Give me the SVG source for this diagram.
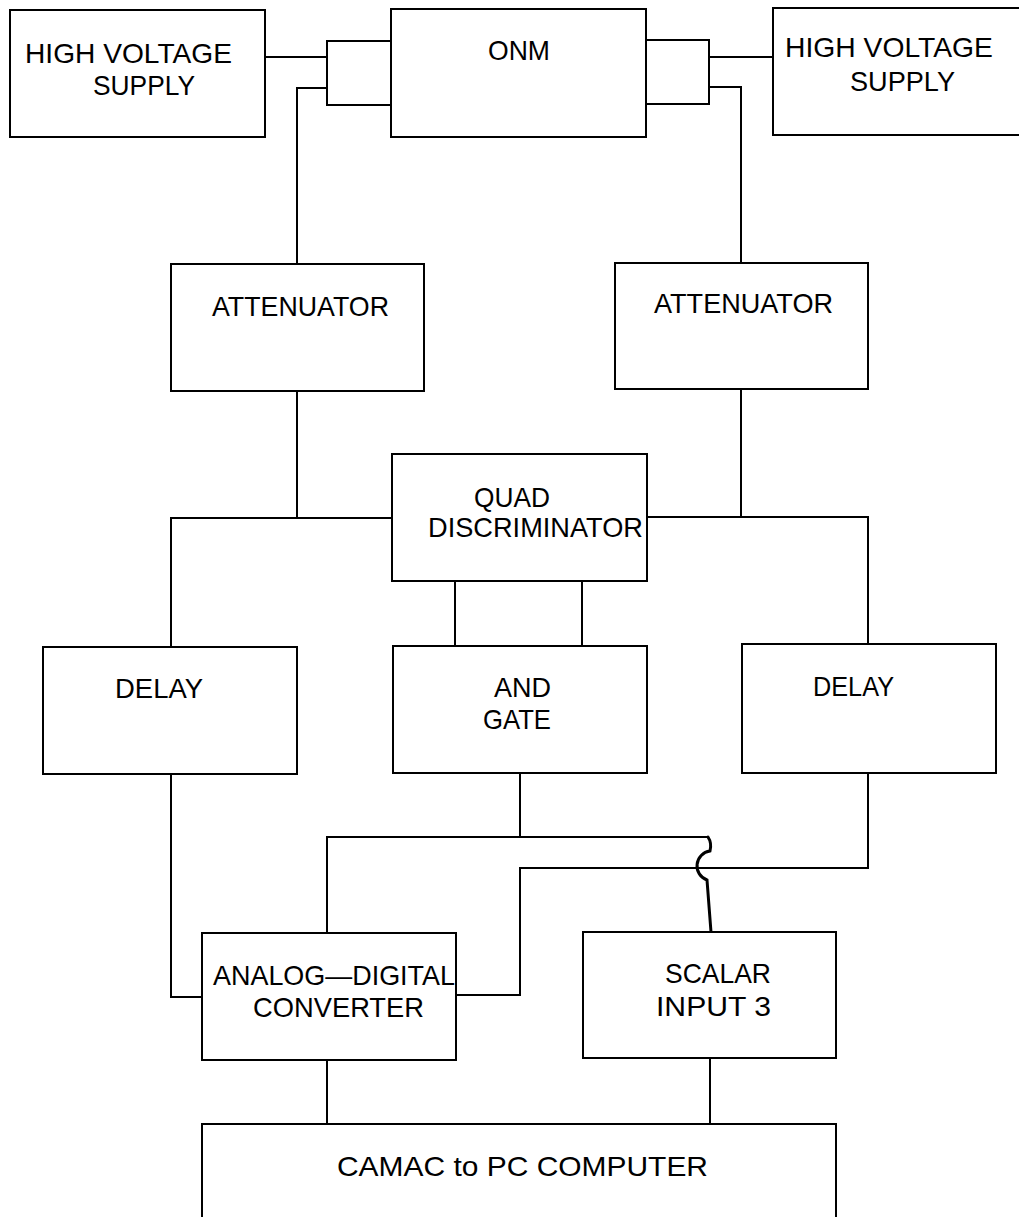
<svg xmlns="http://www.w3.org/2000/svg" width="1019" height="1217" viewBox="0 0 1019 1217">
<style>
.box{fill:#fff;stroke:#000;stroke-width:2}
.ln{fill:none;stroke:#000;stroke-width:2}
.hop{fill:none;stroke:#000;stroke-width:3;stroke-linecap:round}
text{font-family:"Liberation Sans",Arial,sans-serif;font-size:27.5px;fill:#000}
</style>
<rect width="1019" height="1217" fill="#fff"/>
<g id="connectors">
<path class="ln" d="M265,57 H327"/>
<path class="ln" d="M391,41 H327 V105 H391"/>
<path class="ln" d="M327,88 H297 V264"/>
<path class="ln" d="M646,40 H709 V104 H646"/>
<path class="ln" d="M709,57 H773"/>
<path class="ln" d="M709,87 H741 V263"/>
<path class="ln" d="M297,391 V518"/>
<path class="ln" d="M392,518 H171 V647"/>
<path class="ln" d="M741,389 V517"/>
<path class="ln" d="M647,517 H868 V644"/>
<path class="ln" d="M455,581 V646"/>
<path class="ln" d="M582,581 V646"/>
<path class="ln" d="M171,774 V997 H202"/>
<path class="ln" d="M520,773 V837"/>
<path class="ln" d="M708,837 H327 V933"/>
<path class="ln" d="M868,773 V868 H520 V995 H456"/>
<path class="hop" d="M708,837 Q712,843 710,851 A15,15 0 0 0 707,880 L711,932"/>
<path class="ln" d="M327,1060 V1124"/>
<path class="ln" d="M710,1058 V1124"/>
</g>
<g id="hv-left">
<rect class="box" x="10" y="10" width="255" height="127"/>
<text x="25" y="63" textLength="207" lengthAdjust="spacingAndGlyphs">HIGH VOLTAGE</text>
<text x="93" y="95" textLength="102" lengthAdjust="spacingAndGlyphs">SUPPLY</text>
</g>
<g id="onm">
<rect class="box" x="391" y="9" width="255" height="128"/>
<text x="488" y="60" textLength="62" lengthAdjust="spacingAndGlyphs">ONM</text>
</g>
<g id="hv-right">
<rect class="box" x="773" y="8" width="260" height="127"/>
<text x="785" y="57" textLength="208" lengthAdjust="spacingAndGlyphs">HIGH VOLTAGE</text>
<text x="850" y="91" textLength="105" lengthAdjust="spacingAndGlyphs">SUPPLY</text>
</g>
<g id="attenuator-left">
<rect class="box" x="171" y="264" width="253" height="127"/>
<text x="212" y="316" textLength="177" lengthAdjust="spacingAndGlyphs">ATTENUATOR</text>
</g>
<g id="attenuator-right">
<rect class="box" x="615" y="263" width="253" height="126"/>
<text x="654" y="313" textLength="179" lengthAdjust="spacingAndGlyphs">ATTENUATOR</text>
</g>
<g id="quad-discriminator">
<rect class="box" x="392" y="454" width="255" height="127"/>
<text x="474" y="507" textLength="76" lengthAdjust="spacingAndGlyphs">QUAD</text>
<text x="428" y="537" textLength="215" lengthAdjust="spacingAndGlyphs">DISCRIMINATOR</text>
</g>
<g id="delay-left">
<rect class="box" x="43" y="647" width="254" height="127"/>
<text x="115" y="698" textLength="88" lengthAdjust="spacingAndGlyphs">DELAY</text>
</g>
<g id="and-gate">
<rect class="box" x="393" y="646" width="254" height="127"/>
<text x="494" y="697" textLength="57" lengthAdjust="spacingAndGlyphs">AND</text>
<text x="483" y="729" textLength="68" lengthAdjust="spacingAndGlyphs">GATE</text>
</g>
<g id="delay-right">
<rect class="box" x="742" y="644" width="254" height="129"/>
<text x="813" y="696" textLength="81" lengthAdjust="spacingAndGlyphs">DELAY</text>
</g>
<g id="adc">
<rect class="box" x="202" y="933" width="254" height="127"/>
<text x="213" y="985" textLength="242" lengthAdjust="spacingAndGlyphs">ANALOG—DIGITAL</text>
<text x="253" y="1017" textLength="171" lengthAdjust="spacingAndGlyphs">CONVERTER</text>
</g>
<g id="scalar">
<rect class="box" x="583" y="932" width="253" height="126"/>
<text x="665" y="983" textLength="106" lengthAdjust="spacingAndGlyphs">SCALAR</text>
<text x="656" y="1016" textLength="115" lengthAdjust="spacingAndGlyphs">INPUT 3</text>
</g>
<g id="camac">
<rect class="box" x="202" y="1124" width="634" height="120"/>
<text x="337" y="1176" textLength="371" lengthAdjust="spacingAndGlyphs">CAMAC to PC COMPUTER</text>
</g>
</svg>
